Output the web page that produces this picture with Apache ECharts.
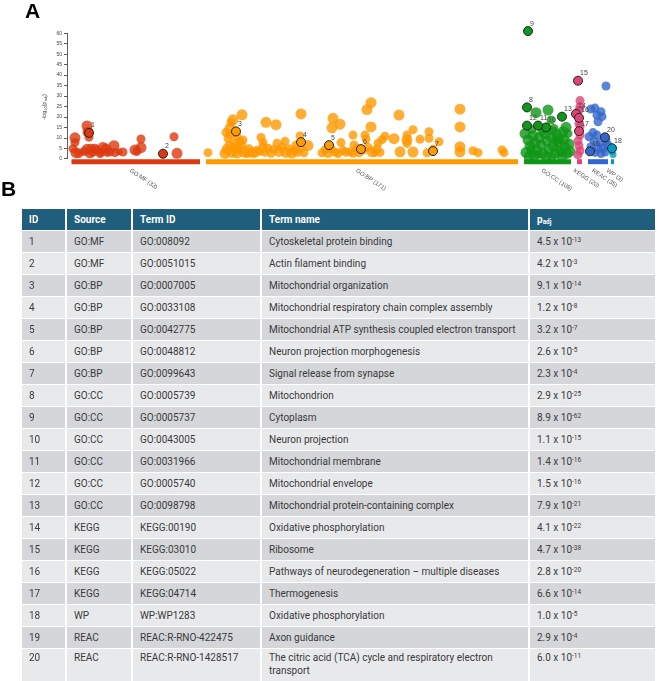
<!DOCTYPE html>
<html><head><meta charset="utf-8">
<script src="https://cdn.jsdelivr.net/npm/echarts@6/dist/echarts.min.js"></script>
<style>
html,body{margin:0;padding:0;background:#fff;width:669px;height:681px;overflow:hidden;}
#chart{position:absolute;left:0;top:0;width:669px;height:205px;}
.panel{position:absolute;font-family:'Liberation Sans',Arial,sans-serif;font-weight:bold;font-size:21px;color:#000;line-height:21px;}
#tbl{position:absolute;left:20px;top:208px;border-collapse:separate;border-spacing:2px 1.5px;table-layout:fixed;font-family:Roboto,'Liberation Sans',sans-serif;font-size:10px;color:#3a3a3a;}
#tbl td,#tbl th{padding:0 0 0 7px;height:21px;text-align:left;vertical-align:middle;border:none;overflow:hidden;}
#tbl th{background:#205e7e;color:#fff;font-weight:bold;}
#tbl tr.odd td{background:#d4d6d9;}
#tbl tr.even td{background:#e8e9eb;}
#tbl sup{font-size:6.5px;vertical-align:3px;line-height:0;}
#tbl sub{font-size:6.5px;vertical-align:-1px;line-height:0;}
#tbl tr.tall td{height:30px;vertical-align:top;padding-top:2px;line-height:13px;}
</style></head>
<body>
<div id="chart"></div>
<div class="panel" style="left:25px;top:0px;">A</div>
<div class="panel" style="left:1px;top:178px;">B</div>
<table id="tbl"><colgroup><col style="width:43px"><col style="width:64px"><col style="width:127px"><col style="width:266px"><col style="width:125px"></colgroup><thead><tr><th>ID</th><th>Source</th><th>Term ID</th><th>Term name</th><th>p<sub>adj</sub></th></tr></thead><tbody id="tbody"></tbody></table>
<script>
// ---------- Manhattan plot data ----------
const sources = ['GO:MF','GO:BP','GO:CC','KEGG','REAC','WP'];
const sourceCounts = [33,171,108,20,35,3];
const sourceStart = [4.5,139,457,510,521,544];
const sourceEnd = [133,451,504,515,541,547];
const sourceColors = ['#dc3912','#ff9900','#109618','#dd4477','#3366cc','#0099c6'];

// [term position, -log10(padj), term size rank]
const mfPoints = [[20,15.7,3],[22,10.3,2],[21,12.8,3],[8,10,3],[8,7.8,2],[6,4.8,2],[9,2.9,3],[12,2.5,2],[17,3.5,2],
[20,4.5,3],[23,2.8,3],[24,5,2],[26,3.2,2],[28,5,2],[30,4.2,2],[33,2.5,2],[34,3,2],[36,5.4,3],[39,4.6,3],[40,3,2],
[43,3.2,2],[47,6.2,3],[48,2.9,2],[52,3.3,1],[56,3.2,2],[68,4.2,3],[70,3.5,2],[74,5.3,3],[74,9.4,2],[107,10.5,2],[110,2.6,3]];
const bpPoints = [[141,2.9,2],[166,18.6,3],[175,21,3],[163,14.5,3],[164,17.3,2],[161,9.8,2],[170,10.5,2],[173,8.1,2],
[158,2.5,3],[160,4.5,3],[162,6.5,2],[165,3,3],[167,5.5,2],[170,2.8,3],[172,4.5,2],[175,6.3,2],[177,3.2,3],[180,2.5,2],
[182,4.8,2],[185,3,3],[188,2.6,2],[190,4,2],[193,3.5,2],[168,7.5,2],[176,9,2],[163,11.5,2],[159,12.6,2],
[199,17.4,3],[209,16.3,3],[194,10.2,2],[196,7.8,2],[210,7.4,2],[218,8.3,2],
[198,3,2],[201,5,2],[204,2.6,2],[212,3.5,3],[215,5.5,2],[219,3,3],[222,4.8,2],[225,2.7,3],[228,4,2],[231,3,2],[234,5.2,2],
[237,2.8,2],[207,4.5,2],[196,5.8,2],[229,6.5,2],
[234,21.4,3],[233,10.9,2],[241,6.3,3],[266,19.3,3],[265,14.8,3],[273,16.5,3],[274,7.7,2],[279,3.1,2],
[255,2.8,2],[258,4.2,2],[261,3,3],[264,4.8,2],[268,3.2,2],[271,2.5,2],[276,4,2],[283,3.3,2],[286,2.6,2],
[286,11.3,2],[290,5,2],[300,23.5,3],[304,26.8,3],[304,15.2,3],[287,6.6,2],[298,11.3,2],[299,9.4,2],[305,3.3,3],[308,2.9,2],
[311,7.4,2],[315,9.1,2],[318,10.8,2],[327,9.6,3],[332,20.9,3],[333,3.3,3],[340,11.3,2],[340,9,3],[340,7.3,2],[346,13.9,2],
[346,3.2,3],[353,9.3,2],[362,12.9,2],[362,9.8,2],[372,8.1,2],[360,2.8,2],[366,4.5,2],
[393,23.7,3],[393,15.2,3],[393,5.7,3],[393,3.3,3],[406,3.8,2],[411,2.9,2],[435,4.2,2],[437,2.9,2],
[292,2.8,2],[296,4,2],[301,5.5,2],[310,4.5,2],[313,3,2]];
const ccPoints = [[469,22,3],[481,23.3,3],[484,18.5,2],[499,15,3],[496,12.9,3],[486,13.3,2],[492,9.5,3],
[458,12,3],[461,9,3],[463,6,3],[459,3,3],[462,1,3],[466,11,3],[468,7.5,3],[470,4,3],[467,1.5,3],[472,10,3],[474,6.5,3],
[476,2.5,3],[478,12,3],[480,8.5,3],[482,4.5,3],[479,1,3],[484,10.5,3],[486,6,3],[488,2.5,3],[490,11.5,3],[491,7.5,3],
[493,4,3],[495,1.2,3],[497,9,3],[498,5.5,3],[500,2.5,3],[502,7,3],[503,3.5,3],[465,14,2],[475,13,2],[487,14.5,2],
[501,12,2],[464,4.5,2],[471,2,2],[485,0.8,2],[494,2.8,2],[489,8.5,2]];
const keggPoints = [[513,27.8,2],[513,25,2],[512,23.2,2],[512,16.9,2],[513,15.5,2],[513,11.3,2],[511,8.5,2],[512,6.2,2],[513,3.8,2],[511,1.8,2]];
const reacPoints = [[539,34.8,2],[524,23.8,2],[528,24.2,2],[530,20.8,2],[535,20.1,2],[531,17.7,2],[534,22.5,2],
[522,10.5,2],[530,11.3,2],[533,7.4,2],[524,5.7,2],[527,8.5,2],[536,5,2],[539,8.5,2],[541,6.5,2],[528,3,2],[534,2.5,2],
[538,3.2,2],[531,5,2],[526,12.5,2]];
const wpPoints = [[545,3.5,1],[546,2,1]];

// ---------- Highlighted terms (table B) ----------
const termIdx = [1,2,3,4,5,6,7,8,9,10,11,12,13,14,15,16,17,18,19,20];
const termSources = ['GO:MF','GO:MF','GO:BP','GO:BP','GO:BP','GO:BP','GO:BP','GO:CC','GO:CC','GO:CC','GO:CC','GO:CC','GO:CC','KEGG','KEGG','KEGG','KEGG','WP','REAC','REAC'];
const termIds = ['GO:008092','GO:0051015','GO:0007005','GO:0033108','GO:0042775','GO:0048812','GO:0099643','GO:0005739','GO:0005737','GO:0043005','GO:0031966','GO:0005740','GO:0098798','KEGG:00190','KEGG:03010','KEGG:05022','KEGG:04714','WP:WP1283','REAC:R-RNO-422475','REAC:R-RNO-1428517'];
const termNames = ['Cytoskeletal protein binding','Actin filament binding','Mitochondrial organization','Mitochondrial respiratory chain complex assembly','Mitochondrial ATP synthesis coupled electron transport','Neuron projection morphogenesis','Signal release from synapse','Mitochondrion','Cytoplasm','Neuron projection','Mitochondrial membrane','Mitochondrial envelope','Mitochondrial protein-containing complex','Oxidative phosphorylation','Ribosome','Pathways of neurodegeneration \u2013 multiple diseases','Thermogenesis','Oxidative phosphorylation','Axon guidance','The citric acid (TCA) cycle and respiratory electron transport'];
const pMant = [4.5,4.2,9.1,1.2,3.2,2.6,2.3,2.9,8.9,1.1,1.4,1.5,7.9,4.1,4.7,2.8,6.6,1.0,2.9,6.0];
const pExp = [-13,-3,-14,-8,-7,-5,-4,-25,-62,-15,-16,-16,-21,-22,-38,-20,-14,-5,-4,-11];
const termPos = [22,96,169,234,262,294,366,460,461,479,471,460,495,509,511,512,512,545,523,538];

// ---------- table ----------
const tb = document.getElementById('tbody');
termIdx.forEach((id,i)=>{
  const tr = document.createElement('tr');
  tr.className = (i%2===0?'odd':'even') + (i===termIdx.length-1?' tall':'');
  tr.innerHTML = '<td>'+id+'</td><td>'+termSources[i]+'</td><td>'+termIds[i]+'</td><td>'+termNames[i]+'</td><td>'+pMant[i].toFixed(1)+' x 10<sup>'+pExp[i]+'</sup></td>';
  tb.appendChild(tr);
});

// ---------- chart ----------
const chart = echarts.init(document.getElementById('chart'), null, {renderer:'canvas'});
const sizeMap = [7,9,11];
function dotSeries(points, ci){
  return {type:'scatter', data:points, symbolSize:v=>sizeMap[v[2]-1], z:2, clip:false,
    itemStyle:{color:sourceColors[ci], opacity:0.8}, silent:true};
}
const hlData = termIdx.map((id,i)=>{
  const ci = sources.indexOf(termSources[i]);
  const y = -(Math.log10(pMant[i]) + pExp[i]);
  return {value:[termPos[i], y], id:id, itemStyle:{color:sourceColors[ci]}};
});
const option = {
  animation:false,
  grid:{left:67, top:33.3, width:560, height:125.4},
  xAxis:{type:'value', min:0, max:560, show:false},
  yAxis:{type:'value', min:0, max:60, interval:5,
    axisLine:{show:true, lineStyle:{color:'#333', width:0.8}},
    axisTick:{show:true, length:3, lineStyle:{color:'#333', width:0.8}},
    axisLabel:{fontSize:5, color:'#444', margin:5, fontFamily:'Liberation Sans'},
    splitLine:{show:false}},
  graphic:[{type:'text', x:44, y:107, rotation:Math.PI/2, style:{
    text:'{a|-log}{s|10}{a|(p}{s|adj}{a|)}', align:'center', verticalAlign:'middle',
    rich:{a:{fontSize:5.5, fill:'#444', fontFamily:'Liberation Sans'}, s:{fontSize:4, fill:'#444', padding:[3,0,0,0], fontFamily:'Liberation Sans'}}}}],
  series:[
    {type:'custom', z:1, silent:true, clip:false,
      data:sources.map((s,i)=>[sourceStart[i], sourceEnd[i]]),
      encode:{x:[0,1]},
      renderItem:(params, api)=>{
        const i = params.dataIndex;
        const p1 = api.coord([api.value(0),0]);
        const p2 = api.coord([api.value(1),0]);
        const cx = (p1[0]+p2[0])/2;
        return {type:'group', children:[
          {type:'rect', shape:{x:p1[0], y:p1[1]+0.5, width:p2[0]-p1[0], height:5}, style:{fill:sourceColors[i]}},
          {type:'text', x:cx-4, y:p1[1]+9, rotation:-0.58, style:{text:sources[i]+' ('+sourceCounts[i]+')', fill:'#555', fontSize:6, fontFamily:'Liberation Sans', align:'left', verticalAlign:'top'}}
        ]};
      }},
    dotSeries(mfPoints,0), dotSeries(bpPoints,1), dotSeries(ccPoints,2),
    dotSeries(keggPoints,3), dotSeries(reacPoints,4), dotSeries(wpPoints,5),
    {type:'scatter', data:hlData, symbolSize:9, z:3, silent:true, clip:false,
      itemStyle:{borderColor:'#222', borderWidth:1, opacity:1},
      label:{show:true, formatter:p=>String(p.data.id), position:[7,-6], align:'left', verticalAlign:'top',
        fontSize:7, color:'#444', fontFamily:'Liberation Sans'}}
  ]
};
chart.setOption(option);
</script>
</body></html>
